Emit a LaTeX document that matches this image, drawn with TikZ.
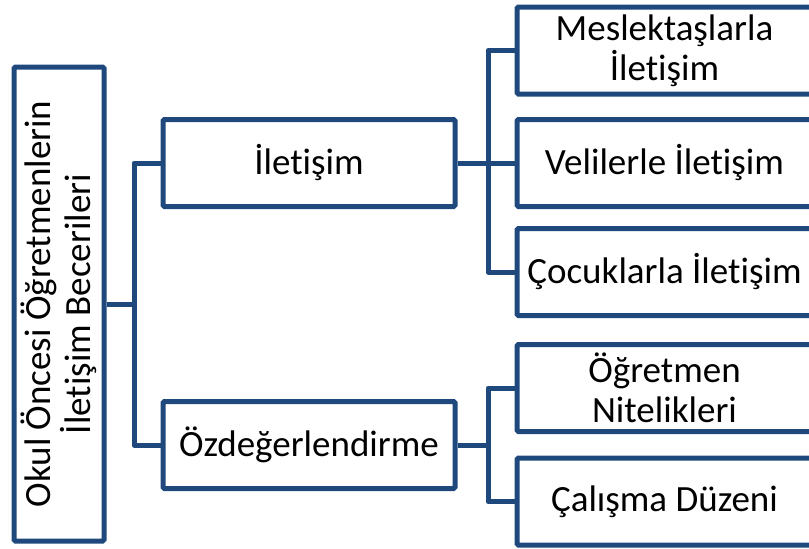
\documentclass[tikz,border=0pt]{standalone}
\usepackage{fontspec}
\setmainfont{Carlito}[RawFeature={-liga}]
\definecolor{bordblue}{RGB}{31,73,125}
\begin{document}
\begin{tikzpicture}[x=1pt,y=-1pt,
  box/.style={draw=bordblue,line width=5pt,fill=white,rounded corners=1.5pt,
    inner sep=0pt,align=center,font=\fontsize{37}{40}\selectfont},
  lvtwo/.style={box,minimum width=292pt,minimum height=87pt},
  lvthree/.style={box,minimum width=295pt,minimum height=87pt},
  conn/.style={draw=bordblue,line width=5pt,line join=round}]
\useasboundingbox (0,0) rectangle (809,549);
\clip (0,0) rectangle (809,549);
\node[box,minimum width=474pt,minimum height=90pt,rotate=90] (root) at (59,304)
  {Okul Öncesi Öğretmenlerin\\İletişim Becerileri};
\node[lvtwo] (ilet) at (309,163) {İletişim};
\node[lvtwo] (ozd) at (309,445) {Özdeğerlendirme};
\node[lvthree] (mes) at (664.5,50.5) {Meslektaşlarla\\İletişim};
\node[lvthree] (vel) at (664.5,163) {Velilerle İletişim};
\node[lvthree] (coc) at (664.5,272) {Çocuklarla İletişim};
\node[lvthree] (ogr) at (664.5,388) {Öğretmen\\Nitelikleri};
\node[lvthree] (cal) at (664.5,501.5) {Çalışma Düzeni};
\coordinate (j1) at (134,304);
\coordinate (j2) at (488,163);
\coordinate (j3) at (488,445);
\draw[conn] (root.south) -- (j1);
\draw[conn] (ilet.west) -| (j1) |- (ozd.west);
\draw[conn] (ilet.east) -- (vel.west);
\draw[conn] (mes.west) -| (j2) |- (coc.west);
\draw[conn] (ozd.east) -- (j3);
\draw[conn] (ogr.west) -| (j3) |- (cal.west);
\end{tikzpicture}
\end{document}
